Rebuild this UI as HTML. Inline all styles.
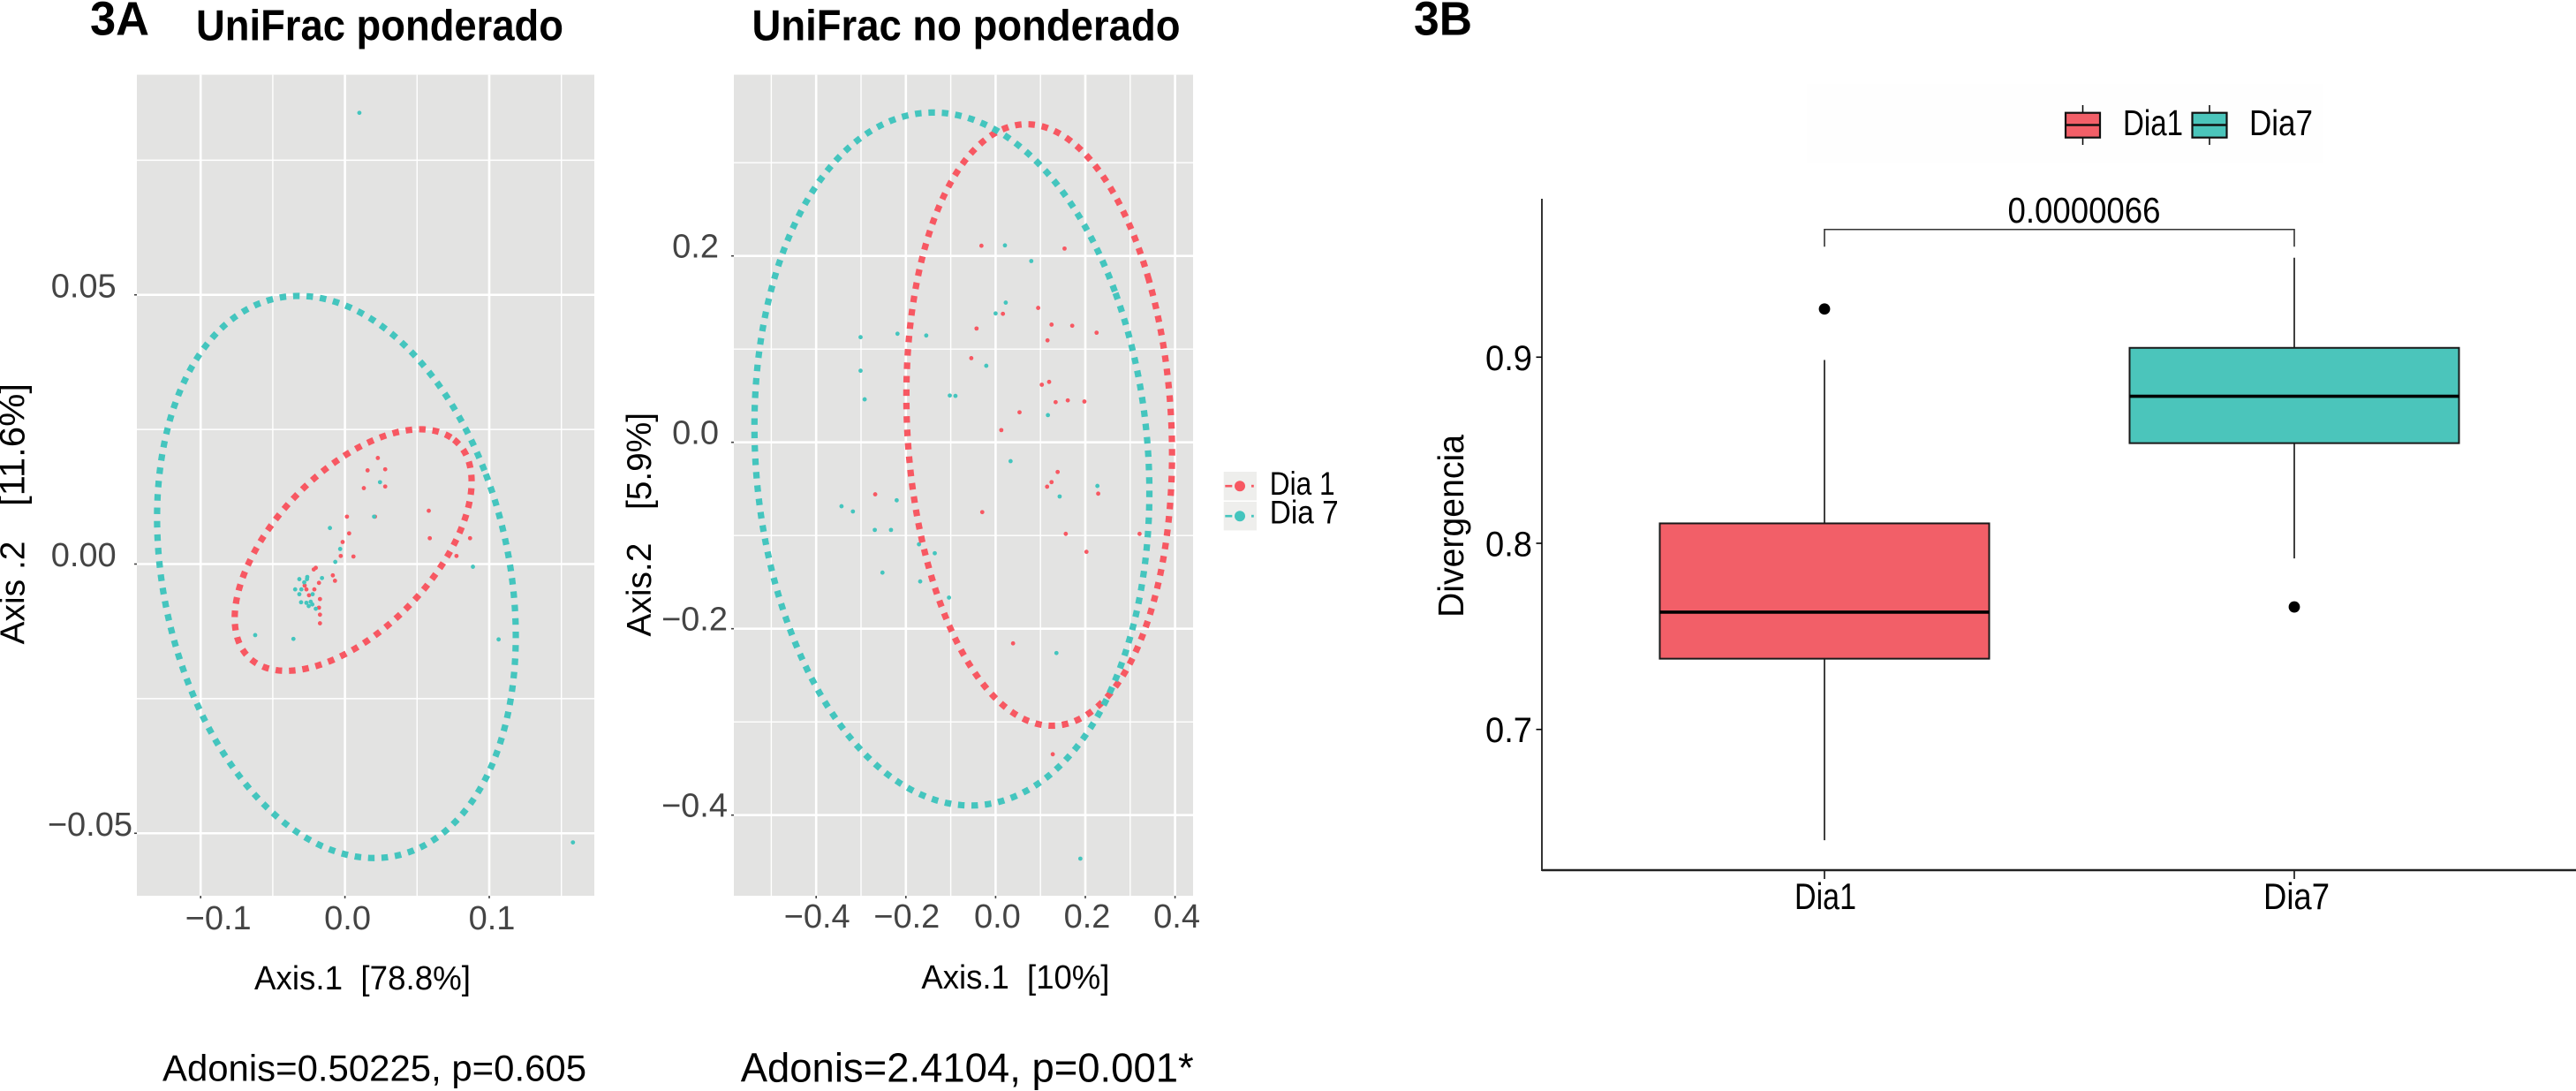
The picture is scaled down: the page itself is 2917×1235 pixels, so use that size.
<!DOCTYPE html>
<html lang="es">
<head>
<meta charset="utf-8">
<title>UniFrac ponderado y no ponderado, divergencia Dia1 y Dia7</title>
<style>
html,body{margin:0;padding:0;background:#fff;width:2917px;height:1235px;overflow:hidden}
svg{display:block;font-family:"Liberation Sans",sans-serif}
</style>
</head>
<body>
<svg id="figure" xmlns="http://www.w3.org/2000/svg" width="2917" height="1235" viewBox="0 0 2917 1235">
  <text x="102" y="39.5" font-size="54" font-weight="700" textLength="67" lengthAdjust="spacingAndGlyphs">3A</text>
  <text x="222" y="45.5" font-size="49" font-weight="700" textLength="416" lengthAdjust="spacingAndGlyphs">UniFrac ponderado</text>
  <text x="851.5" y="45.5" font-size="49" font-weight="700" textLength="485" lengthAdjust="spacingAndGlyphs">UniFrac no ponderado</text>
  <text x="1601" y="39.5" font-size="54" font-weight="700" textLength="66" lengthAdjust="spacingAndGlyphs">3B</text>
  <text x="184" y="1223.5" font-size="42" textLength="480" lengthAdjust="spacingAndGlyphs">Adonis=0.50225, p=0.605</text>
  <text x="838.7" y="1224.5" font-size="46" textLength="513" lengthAdjust="spacingAndGlyphs">Adonis=2.4104, p=0.001*</text>
  <g id="weighted"></g>
  <g id="unweighted"></g>
  <g id="pcoa-legend"></g>
  <g id="boxplot"></g>
</svg>
<script>
// Shared group names
const groups = ["Dia 1", "Dia 7"];
const groupColors = ["#F75862", "#44C5BE"];

// Weighted UniFrac: axes
const weightedXTicks = [-0.1, 0, 0.1];
const weightedXTickLabels = ["\u22120.1", "0.0", "0.1"];
const weightedXMinor = [-0.05, 0.05, 0.15];
const weightedYTicks = [-0.05, 0, 0.05];
const weightedYTickLabels = ["\u22120.05", "0.00", "0.05"];
const weightedYMinor = [-0.025, 0.025, 0.075];

// Weighted UniFrac: points
const weightedDia1X = [0.0228,0.0157,0.0279,0.0279,0.0131,0.0014,0.0208,0.0029,-0.0016,-0.0029,0.0059,0.0581,0.0588,0.0867,0.0773,-0.0202,-0.0216,-0.0084,-0.0069,-0.0180,-0.0279,-0.0212,-0.0267,-0.0249,-0.0173,-0.0180,-0.0173,-0.0173];
const weightedDia1Y = [0.0197,0.0174,0.0176,0.0144,0.0141,0.0088,0.0088,0.0057,0.0041,0.0015,0.0014,0.0099,0.0048,0.0048,0.0015,-0.0007,-0.0010,-0.0021,-0.0031,-0.0035,-0.0040,-0.0047,-0.0047,-0.0058,-0.0065,-0.0081,-0.0094,-0.0110];
const weightedDia7X = [0.0243,0.0202,-0.0104,-0.0033,-0.0067,0.0887,-0.0261,-0.0263,-0.0316,-0.0159,-0.0282,-0.0345,-0.0302,-0.0316,-0.0224,-0.0304,-0.0267,-0.0251,-0.0237,-0.0226,-0.0202,-0.0622,-0.0357,0.1065,0.0100,0.1580];
const weightedDia7Y = [0.0152,0.0088,0.0067,0.0028,0.0004,-0.0005,-0.0024,-0.0028,-0.0028,-0.0026,-0.0034,-0.0047,-0.0047,-0.0056,-0.0056,-0.0071,-0.0072,-0.0078,-0.0070,-0.0075,-0.0083,-0.0132,-0.0139,-0.0140,0.0838,-0.0517];

// Weighted UniFrac: ellipses (Dia 1, Dia 7)
const weightedEllipseCx = [0.0057, -0.0059];
const weightedEllipseCy = [0.0026, -0.0024];
const weightedEllipseRx = [0.0821, 0.1243];
const weightedEllipseRy = [0.02243, 0.0522];
const weightedEllipseCorr = [0.565, -0.21];

// Unweighted UniFrac: axes
const unweightedXTicks = [-0.4, -0.2, 0, 0.2, 0.4];
const unweightedXTickLabels = ["\u22120.4", "\u22120.2", "0.0", "0.2", "0.4"];
const unweightedXMinor = [-0.5, -0.3, -0.1, 0.1, 0.3];
const unweightedYTicks = [-0.4, -0.2, 0, 0.2];
const unweightedYTickLabels = ["\u22120.4", "\u22120.2", "0.0", "0.2"];
const unweightedYMinor = [-0.3, -0.1, 0.1, 0.3];

// Unweighted UniFrac: points
const unweightedDia1X = [-0.0316,0.1537,0.0949,0.0163,-0.0425,0.1247,0.1708,0.2251,0.1157,-0.0542,0.1030,0.1193,0.1338,0.1609,0.1979,0.0533,0.0127,0.1383,0.1148,0.1247,0.2287,-0.2684,-0.0298,0.1564,0.3209,0.2025,0.0389,0.1274];
const unweightedDia1Y = [0.2109,0.2079,0.1442,0.1379,0.1221,0.1263,0.1251,0.1176,0.1094,0.0903,0.0618,0.0648,0.0431,0.0450,0.0438,0.0322,0.0131,-0.0318,-0.0476,-0.0427,-0.0551,-0.0558,-0.0749,-0.0982,-0.0982,-0.1175,-0.2157,-0.3347];
const unweightedDia7X = [0.0208,0.0795,0.0226,0.0000,-0.3010,-0.2187,-0.1546,-0.0208,-0.3010,-0.2919,-0.1021,-0.0895,0.1166,0.0334,0.2269,0.1428,-0.3435,-0.3181,-0.2205,-0.2693,-0.2332,-0.1708,-0.1356,-0.2522,-0.1681,-0.1039,0.1356,0.1889];
const unweightedDia7Y = [0.2113,0.1945,0.1499,0.1383,0.1128,0.1165,0.1146,0.0821,0.0768,0.0461,0.0502,0.0498,0.0292,-0.0202,-0.0468,-0.0581,-0.0686,-0.0742,-0.0622,-0.0940,-0.0940,-0.1094,-0.1190,-0.1398,-0.1493,-0.1666,-0.2261,-0.4467];

// Unweighted UniFrac: ellipses (Dia 1, Dia 7)
const unweightedEllipseCx = [0.0972, -0.0974];
const unweightedEllipseCy = [0.0186, -0.0179];
const unweightedEllipseRx = [0.2961, 0.4402];
const unweightedEllipseRy = [0.3227, 0.3718];
const unweightedEllipseCorr = [-0.096, -0.095];

// Box plot
const boxCategories = ["Dia1", "Dia7"];
const boxColors = ["#F25F68", "#4BC5BB"];
const boxQ1 = [0.738, 0.8538];
const boxMedian = [0.763, 0.879];
const boxQ3 = [0.8107, 0.905];
const boxWhiskerLow = [0.6405, 0.7919];
const boxWhiskerHigh = [0.8985, 0.9534];
const boxOutliers = [0.9259, 0.7658];
const boxYTicks = [0.7, 0.8, 0.9];
const boxYTickLabels = ["0.7", "0.8", "0.9"];
const pValueLabel = "0.0000066";
const pValueBracketLevel = 0.9686;

const SVGNS = "http://www.w3.org/2000/svg";

function make(parent, tag, attrs, content) {
  const node = document.createElementNS(SVGNS, tag);
  for (const key in attrs) node.setAttribute(key, attrs[key]);
  if (content !== undefined) node.textContent = content;
  parent.appendChild(node);
  return node;
}

function nameIt(node, name) {
  
  
  return node;
}

function linearScale(zeroPx, pxPerUnit) {
  return function (value) { return zeroPx + value * pxPerUnit; };
}

function ellipsePath(sx, sy, cx, cy, rx, ry, corr) {
  const phi = Math.acos(corr);
  const steps = 240;
  let d = "";
  for (let i = 0; i <= steps; i++) {
    const t = Math.PI * 2 * i / steps + 0.6;
    const px = sx(cx + rx * Math.cos(t));
    const py = sy(cy + ry * Math.cos(t - phi));
    d += (i ? "L" : "M") + px.toFixed(2) + " " + py.toFixed(2);
  }
  return d + "Z";
}

function drawScatter(root, cfg) {
  const sx = linearScale(cfg.x0, cfg.xs);
  const sy = linearScale(cfg.y0, cfg.ys);

  const bg = make(root, "rect", { x: cfg.left, y: cfg.top, width: cfg.right - cfg.left, height: cfg.bottom - cfg.top, fill: "#E3E3E2" });
  nameIt(bg, "plot-background");

  cfg.yMinor.forEach(function (v) {
    const line = make(root, "line", { x1: cfg.left, x2: cfg.right, y1: sy(v), y2: sy(v), stroke: "#fff", "stroke-width": 1.4 });
    nameIt(line, "minor-gridline-y");
  });
  cfg.xMinor.forEach(function (v) {
    const line = make(root, "line", { x1: sx(v), x2: sx(v), y1: cfg.top, y2: cfg.bottom, stroke: "#fff", "stroke-width": 1.4 });
    nameIt(line, "minor-gridline-x");
  });
  cfg.yTicks.forEach(function (v, i) {
    const line = make(root, "line", { x1: cfg.left, x2: cfg.right, y1: sy(v), y2: sy(v), stroke: "#fff", "stroke-width": 2.6 });
    nameIt(line, "major-gridline-y");
    const tick = make(root, "line", { x1: cfg.left - 3, x2: cfg.left, y1: sy(v), y2: sy(v), stroke: "#444", "stroke-width": 1.6 });
    nameIt(tick, "y-tick");
    const neg = v < 0;
    const label = make(root, "text", { x: cfg.yLabelRight + (neg ? cfg.yNegShift : 0), y: sy(v) + cfg.yLabelDy, "text-anchor": "end", "font-size": 38, fill: "#444" }, cfg.yLabels[i]);
    nameIt(label, "y-tick-label");
  });
  cfg.xTicks.forEach(function (v, i) {
    const line = make(root, "line", { x1: sx(v), x2: sx(v), y1: cfg.top, y2: cfg.bottom, stroke: "#fff", "stroke-width": 2.6 });
    nameIt(line, "major-gridline-x");
    const tick = make(root, "line", { x1: sx(v), x2: sx(v), y1: cfg.bottom, y2: cfg.bottom + 3, stroke: "#444", "stroke-width": 1.6 });
    nameIt(tick, "x-tick");
    const neg = v < 0;
    const label = make(root, "text", { x: sx(v) + cfg.xLabelShift + (neg ? cfg.xNegShift : 0), y: cfg.xLabelY, "text-anchor": "middle", "font-size": 38, fill: "#444" }, cfg.xLabels[i]);
    nameIt(label, "x-tick-label");
  });

  cfg.points.forEach(function (series, g) {
    series.x.forEach(function (xv, i) {
      const dot = make(root, "circle", { cx: sx(xv), cy: sy(series.y[i]), r: 2.4, fill: groupColors[g] });
      
      
    });
  });

  groups.forEach(function (name, g) {
    const path = make(root, "path", {
      d: ellipsePath(sx, sy, cfg.ell.cx[g], cfg.ell.cy[g], cfg.ell.rx[g], cfg.ell.ry[g], cfg.ell.corr[g]),
      fill: "none", stroke: groupColors[g], "stroke-width": 7.2, "stroke-dasharray": "7.4 7.8"
    });
    
    
  });

  const xt = make(root, "text", { x: cfg.xTitleX, y: cfg.xTitleY, "font-size": 38, textLength: cfg.xTitleLen, lengthAdjust: "spacingAndGlyphs" }, cfg.xTitle);
  nameIt(xt, "x-axis-title");
  const yt = make(root, "text", { transform: "translate(" + cfg.yTitleX + "," + cfg.yTitleY + ") rotate(-90)", "font-size": 39, textLength: cfg.yTitleLen, lengthAdjust: "spacingAndGlyphs" }, cfg.yTitle);
  nameIt(yt, "y-axis-title");
  const yu = make(root, "text", { transform: "translate(" + cfg.yTitleX + "," + cfg.yUnitY + ") rotate(-90)", "font-size": cfg.yUnitSize, textLength: cfg.yUnitLen, lengthAdjust: "spacingAndGlyphs" }, cfg.yUnit);
  nameIt(yu, "y-axis-title-percent");
}

drawScatter(document.getElementById("weighted"), {
  left: 155, right: 673, top: 84.6, bottom: 1014,
  x0: 390.6, xs: 1634, y0: 638.5, ys: -6095,
  xTicks: weightedXTicks, xLabels: weightedXTickLabels, xMinor: weightedXMinor,
  yTicks: weightedYTicks, yLabels: weightedYTickLabels, yMinor: weightedYMinor,
  yLabelRight: 131.7, yNegShift: 18.3, yLabelDy: 2.5,
  xLabelShift: 3, xNegShift: 17, xLabelY: 1052,
  points: [{ x: weightedDia1X, y: weightedDia1Y }, { x: weightedDia7X, y: weightedDia7Y }],
  ell: { cx: weightedEllipseCx, cy: weightedEllipseCy, rx: weightedEllipseRx, ry: weightedEllipseRy, corr: weightedEllipseCorr },
  xTitle: "Axis.1\u00A0\u00A0[78.8%]", xTitleX: 288, xTitleY: 1120, xTitleLen: 245,
  yTitle: "Axis .2", yTitleX: 27.7, yTitleY: 729.5, yTitleLen: 117,
  yUnit: "[11.6%]", yUnitY: 573, yUnitLen: 139, yUnitSize: 40
});

drawScatter(document.getElementById("unweighted"), {
  left: 831, right: 1351, top: 84.6, bottom: 1014,
  x0: 1127.4, xs: 508, y0: 500.7, ys: -1055,
  xTicks: unweightedXTicks, xLabels: unweightedXTickLabels, xMinor: unweightedXMinor,
  yTicks: unweightedYTicks, yLabels: unweightedYTickLabels, yMinor: unweightedYMinor,
  yLabelRight: 814, yNegShift: 10, yLabelDy: 2,
  xLabelShift: 2, xNegShift: -1, xLabelY: 1050,
  points: [{ x: unweightedDia1X, y: unweightedDia1Y }, { x: unweightedDia7X, y: unweightedDia7Y }],
  ell: { cx: unweightedEllipseCx, cy: unweightedEllipseCy, rx: unweightedEllipseRx, ry: unweightedEllipseRy, corr: unweightedEllipseCorr },
  xTitle: "Axis.1\u00A0\u00A0[10%]", xTitleX: 1043.4, xTitleY: 1119, xTitleLen: 213,
  yTitle: "Axis.2", yTitleX: 737, yTitleY: 720.6, yTitleLen: 106,
  yUnit: "[5.9%]", yUnitY: 577, yUnitLen: 110, yUnitSize: 39
});

(function drawPcoaLegend() {
  const root = document.getElementById("pcoa-legend");
  const entryLengths = [74, 78];
  groups.forEach(function (name, g) {
    const top = 534 + g * 34;
    const cy = top + 16.2;
    const key = make(root, "rect", { x: 1385.7, y: top, width: 37.3, height: 32.4, fill: "#EEEEEC" });
    nameIt(key, "legend-key");
    const dash = make(root, "rect", { x: 1387.3, y: cy - 1.3, width: 8, height: 2.6, fill: groupColors[g] });
    nameIt(dash, "legend-dash");
    const dot = make(root, "circle", { cx: 1404, cy: cy, r: 6, fill: groupColors[g] });
    nameIt(dot, "legend-dot");
    const tail = make(root, "rect", { x: 1417, y: cy - 1.4, width: 2.8, height: 2.8, fill: groupColors[g] });
    nameIt(tail, "legend-dash");
    const label = make(root, "text", { x: 1437.7, y: 560 + g * 32.7, "font-size": 37, textLength: entryLengths[g], lengthAdjust: "spacingAndGlyphs" }, name);
    nameIt(label, "legend-entry");
  });
})();

(function drawBoxplot() {
  const root = document.getElementById("boxplot");
  const sy = linearScale(615 + 0.8 * 2107, -2107);
  const centers = [2066, 2598];
  const halfWidth = 186.5;
  const xLabelCenters = [2067, 2600.5];
  const xLabelLengths = [70, 75];

  const bg = make(root, "rect", { x: 2046, y: 95, width: 585, height: 90, fill: "#FEFEFE" });
  nameIt(bg, "legend-background");

  boxCategories.forEach(function (name, i) {
    const x = centers[i];
    const whisker = make(root, "line", { x1: x, x2: x, y1: sy(boxWhiskerHigh[i]), y2: sy(boxWhiskerLow[i]), stroke: "#000", "stroke-width": 1.5 });
    nameIt(whisker, "whisker-" + name.toLowerCase());
    const box = make(root, "rect", { x: x - halfWidth, y: sy(boxQ3[i]), width: halfWidth * 2, height: sy(boxQ1[i]) - sy(boxQ3[i]), fill: boxColors[i], stroke: "#1a1a1a", "stroke-width": 2 });
    nameIt(box, "box-" + name.toLowerCase());
    const median = make(root, "line", { x1: x - halfWidth, x2: x + halfWidth, y1: sy(boxMedian[i]), y2: sy(boxMedian[i]), stroke: "#000", "stroke-width": 3.6 });
    nameIt(median, "median-" + name.toLowerCase());
    const outlier = make(root, "circle", { cx: x, cy: sy(boxOutliers[i]), r: 6.4, fill: "#000" });
    nameIt(outlier, "outlier-" + name.toLowerCase());
    const tick = make(root, "line", { x1: x, x2: x, y1: 985, y2: 995, stroke: "#000", "stroke-width": 1.5 });
    nameIt(tick, "x-tick");
    const label = make(root, "text", { x: xLabelCenters[i], y: 1029, "text-anchor": "middle", "font-size": 42, textLength: xLabelLengths[i], lengthAdjust: "spacingAndGlyphs" }, name);
    nameIt(label, "x-tick-label");
  });

  const yAxis = make(root, "line", { x1: 1746, x2: 1746, y1: 225, y2: 986, stroke: "#000", "stroke-width": 1.6 });
  nameIt(yAxis, "y-axis-line");
  const xAxis = make(root, "line", { x1: 1746, x2: 2917, y1: 985, y2: 985, stroke: "#222", "stroke-width": 2.4 });
  nameIt(xAxis, "x-axis-line");

  boxYTicks.forEach(function (v, i) {
    const tick = make(root, "line", { x1: 1739.5, x2: 1746, y1: sy(v), y2: sy(v), stroke: "#000", "stroke-width": 1.6 });
    nameIt(tick, "y-tick");
    const label = make(root, "text", { x: 1735, y: sy(v) + 14.5, "text-anchor": "end", "font-size": 40, textLength: 53, lengthAdjust: "spacingAndGlyphs" }, boxYTickLabels[i]);
    nameIt(label, "y-tick-label");
  });

  const yt = make(root, "text", { transform: "translate(1657,699) rotate(-90)", "font-size": 41, textLength: 207, lengthAdjust: "spacingAndGlyphs" }, "Divergencia");
  nameIt(yt, "y-axis-title");

  const by = sy(pValueBracketLevel);
  const bracket = make(root, "path", { d: "M" + centers[0] + " " + (by + 19.5) + "V" + by + "H" + centers[1] + "V" + (by + 19.5), fill: "none", stroke: "#333", "stroke-width": 1.6 });
  nameIt(bracket, "significance-bracket");
  const pv = make(root, "text", { x: 2360, y: 252, "text-anchor": "middle", "font-size": 41, textLength: 173, lengthAdjust: "spacingAndGlyphs" }, pValueLabel);
  nameIt(pv, "p-value-label");

  const keyX = [2358.5, 2502];
  const labelX = [2404, 2547];
  const labelLen = [68, 72];
  boxCategories.forEach(function (name, i) {
    const whisker = make(root, "line", { x1: keyX[i], x2: keyX[i], y1: 119, y2: 164, stroke: "#000", "stroke-width": 1.5 });
    nameIt(whisker, "legend-key-whisker");
    const box = make(root, "rect", { x: keyX[i] - 19.5, y: 127.7, width: 39, height: 28, fill: boxColors[i], stroke: "#111", "stroke-width": 2.2 });
    nameIt(box, "legend-key-box");
    const mid = make(root, "line", { x1: keyX[i] - 19.5, x2: keyX[i] + 19.5, y1: 141.5, y2: 141.5, stroke: "#111", "stroke-width": 2.4 });
    nameIt(mid, "legend-key-median");
    const label = make(root, "text", { x: labelX[i], y: 153, "font-size": 41, textLength: labelLen[i], lengthAdjust: "spacingAndGlyphs" }, name);
    nameIt(label, "legend-entry");
  });
})();
</script>
</body>
</html>
